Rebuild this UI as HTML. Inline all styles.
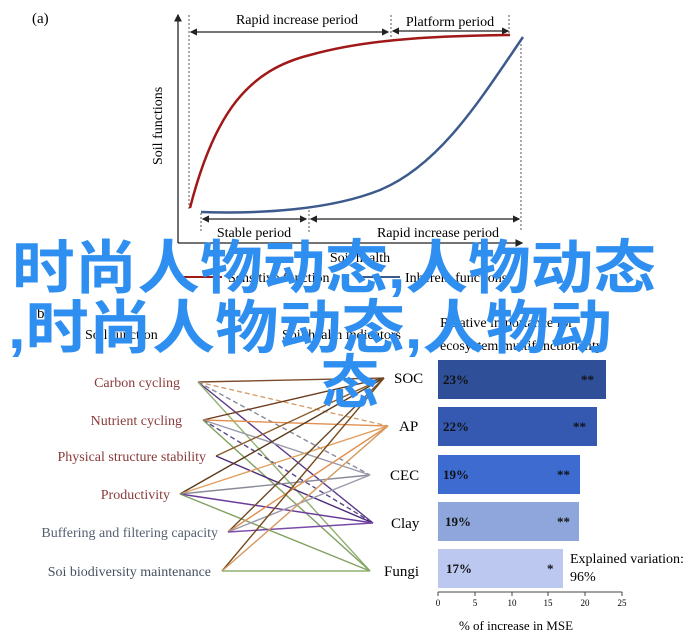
<!DOCTYPE html>
<html><head><meta charset="utf-8"><style>
body{margin:0;background:#fff;}
svg{display:block;font-family:"Liberation Serif",serif;}
.ov{font-family:"Liberation Sans","Noto Sans CJK SC",sans-serif;font-weight:bold;fill:#2f8ff0;font-size:58px;}
</style></head><body>
<svg width="700" height="640" viewBox="0 0 700 640" xmlns="http://www.w3.org/2000/svg">
<defs>
<marker id="ar" markerWidth="6" markerHeight="6" refX="5" refY="3" orient="auto"><path d="M0,0 L6,3 L0,6 z" fill="#222"/></marker>
<marker id="al" markerWidth="6" markerHeight="6" refX="1" refY="3" orient="auto"><path d="M6,0 L0,3 L6,6 z" fill="#222"/></marker>
</defs>
<text x="32" y="23" font-size="15">(a)</text>
<line x1="178" y1="243" x2="178" y2="15" stroke="#222" stroke-width="1.3" marker-end="url(#ar)"/>
<line x1="178" y1="243" x2="522" y2="243" stroke="#222" stroke-width="1.3" marker-end="url(#ar)"/>
<text transform="translate(162,165) rotate(-90)" font-size="14">Soil functions</text>
<g stroke="#555" stroke-dasharray="2,2" stroke-width="1">
<line x1="189" y1="15" x2="189" y2="210"/><line x1="391" y1="15" x2="391" y2="38"/>
<line x1="509" y1="15" x2="509" y2="36"/><line x1="521" y1="40" x2="521" y2="232"/>
<line x1="201" y1="213" x2="201" y2="232"/><line x1="309" y1="210" x2="309" y2="232"/>
</g>
<g stroke="#222" stroke-width="1.2">
<line x1="191" y1="32" x2="388" y2="32" marker-start="url(#al)" marker-end="url(#ar)"/>
<line x1="393" y1="31" x2="508" y2="31" marker-start="url(#al)" marker-end="url(#ar)"/>
<line x1="203" y1="219" x2="306" y2="219" marker-start="url(#al)" marker-end="url(#ar)"/>
<line x1="311" y1="219" x2="519" y2="219" marker-start="url(#al)" marker-end="url(#ar)"/>
</g>
<text x="297" y="24" font-size="14" text-anchor="middle">Rapid increase period</text>
<text x="450" y="26" font-size="14" text-anchor="middle">Platform period</text>
<text x="254" y="237" font-size="14" text-anchor="middle">Stable period</text>
<text x="438" y="237" font-size="14" text-anchor="middle">Rapid increase period</text>
<text x="360" y="262" font-size="14" text-anchor="middle">Soil health</text>
<path d="M190,208 C215,110 250,70 310,55 C360,41 420,36 510,35" fill="none" stroke="#a01818" stroke-width="2.5"/>
<path d="M201,212 C260,214 330,210 380,190 C440,165 480,100 523,37" fill="none" stroke="#3c5a8c" stroke-width="2.5"/>
<line x1="180" y1="277" x2="222" y2="277" stroke="#a01818" stroke-width="2"/>
<text x="228" y="282" font-size="14">Sensitive function</text>
<line x1="355" y1="277" x2="400" y2="277" stroke="#3c5a8c" stroke-width="2"/>
<text x="405" y="282" font-size="14">Inherent functions</text>
<text x="32" y="318" font-size="15">(b)</text>
<text x="85" y="339" font-size="14">Soil function</text>
<text x="282" y="339" font-size="14">Soil health indicators</text>
<text x="440" y="327" font-size="14">Relative importance for</text>
<text x="440" y="350" font-size="14">ecosystem multifunctionality</text>
<g font-size="14" text-anchor="end" fill="#8a3a3a">
<text x="180" y="387">Carbon cycling</text>
<text x="182" y="425">Nutrient cycling</text>
<text x="206" y="461">Physical structure stability</text>
<text x="170" y="499">Productivity</text>
<text x="218" y="537" fill="#556070">Buffering and filtering capacity</text>
<text x="211" y="576" fill="#445060">Soi biodiversity maintenance</text>
</g>
<g fill="none" stroke-width="1.4">
<path d="M198,382 L384,378" stroke="#7a4a2a"/>
<path d="M198,382 L388,426" stroke="#d4a070" stroke-dasharray="5,3"/>
<path d="M198,382 L370,475" stroke="#8a8a9a" stroke-dasharray="5,3"/>
<path d="M198,382 L373,523" stroke="#5a3a8a"/>
<path d="M198,382 L370,571" stroke="#90b070"/>
<path d="M203,420 L384,378" stroke="#6a3a1a"/>
<path d="M203,420 L388,426" stroke="#e09050"/>
<path d="M203,420 L370,475" stroke="#9a9aaa"/>
<path d="M203,420 L373,523" stroke="#5a4a8a" stroke-dasharray="5,3"/>
<path d="M203,420 L370,571" stroke="#80a060"/>
<path d="M216,456 L384,378" stroke="#8a5a2a"/>
<path d="M216,456 L373,523" stroke="#4a2a7a"/>
<path d="M180,494 L384,378" stroke="#5a3a1a"/>
<path d="M180,494 L388,426" stroke="#e0a060"/>
<path d="M180,494 L370,475" stroke="#8a8a9a"/>
<path d="M180,494 L373,523" stroke="#6a3a9a"/>
<path d="M180,494 L370,571" stroke="#80a060"/>
<path d="M228,532 L384,378" stroke="#6a4a2a"/>
<path d="M228,532 L388,426" stroke="#e09050"/>
<path d="M228,532 L370,475" stroke="#9a9aaa"/>
<path d="M228,532 L373,523" stroke="#7a4aaa"/>
<path d="M222,571 L384,378" stroke="#7a4a1a"/>
<path d="M222,571 L388,426" stroke="#d49a60"/>
<path d="M222,571 L370,571" stroke="#90b070"/>
</g>
<g font-size="15">
<text x="394" y="383">SOC</text><text x="399" y="431">AP</text>
<text x="390" y="480">CEC</text><text x="391" y="528">Clay</text><text x="384" y="576">Fungi</text>
</g>
<rect x="438" y="360" width="168" height="39" fill="#2f4f98"/>
<rect x="438" y="407" width="159" height="39" fill="#3559b0"/>
<rect x="438" y="455" width="142" height="39" fill="#3d6bd0"/>
<rect x="438" y="502" width="141" height="39" fill="#8fa6dc"/>
<rect x="438" y="549" width="125" height="39" fill="#bcc8f0"/>
<g font-size="13" font-weight="bold" fill="#111">
<text x="443" y="384">23%</text><text x="581" y="384">**</text>
<text x="443" y="431">22%</text><text x="573" y="431">**</text>
<text x="443" y="479">19%</text><text x="557" y="479">**</text>
<text x="445" y="526">19%</text><text x="557" y="526">**</text>
<text x="446" y="573">17%</text><text x="547" y="573">*</text>
</g>
<text x="570" y="563" font-size="14">Explained variation:</text>
<text x="570" y="581" font-size="14">96%</text>
<line x1="438" y1="592" x2="622" y2="592" stroke="#444"/>
<g stroke="#444"><line x1="438" y1="592" x2="438" y2="596"/><line x1="475" y1="592" x2="475" y2="596"/><line x1="512" y1="592" x2="512" y2="596"/><line x1="548" y1="592" x2="548" y2="596"/><line x1="585" y1="592" x2="585" y2="596"/><line x1="622" y1="592" x2="622" y2="596"/></g>
<g font-size="9" text-anchor="middle"><text x="438" y="606">0</text><text x="475" y="606">5</text><text x="512" y="606">10</text><text x="548" y="606">15</text><text x="585" y="606">20</text><text x="622" y="606">25</text></g>
<text x="516" y="630" font-size="13" text-anchor="middle">% of increase in MSE</text>
<text class="ov" x="334" y="288" text-anchor="middle" textLength="644" lengthAdjust="spacingAndGlyphs">时尚人物动态,人物动态</text>
<text class="ov" x="310" y="348" text-anchor="middle" textLength="604" lengthAdjust="spacingAndGlyphs">,时尚人物动态,人物动</text>
<text class="ov" x="350" y="403" text-anchor="middle">态</text>
</svg>
</body></html>
